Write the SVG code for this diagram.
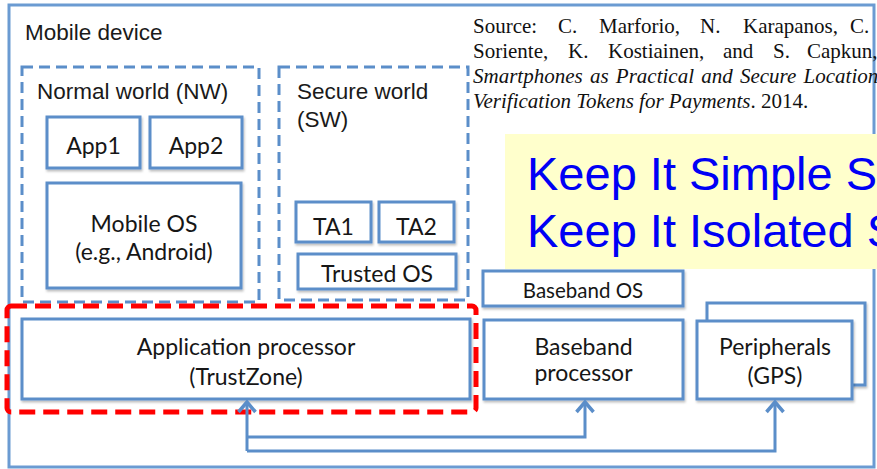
<svg xmlns="http://www.w3.org/2000/svg" width="877" height="469" viewBox="0 0 877 469">
<style>
.box{fill:#fff;stroke:#5b8ec9;stroke-width:3;filter:url(#sh)}
.dash{fill:none;stroke:#5b8ec9;stroke-width:3;stroke-dasharray:11 6}
.red{fill:none;stroke:#ff0000;stroke-width:5;stroke-dasharray:16 8}
.conn{fill:none;stroke:#5b8ec9;stroke-width:3}
.t{font-family:Lato,"Liberation Sans",sans-serif;font-size:23px;fill:#161616;text-anchor:middle}
.h{font-family:"Liberation Sans",Arial,sans-serif;font-size:22.5px;fill:#1a1a1a}
.src{font-family:"Liberation Serif","Times New Roman",serif;font-size:21px;fill:#111}
.big{font-family:"Liberation Sans",Arial,sans-serif;font-size:47px;fill:#0000f5}
</style>
<defs>
<filter id="sh" x="-10%" y="-10%" width="120%" height="130%">
<feDropShadow dx="1" dy="2" stdDeviation="1.2" flood-color="#000" flood-opacity="0.25"/>
</filter>
<marker id="arr" viewBox="0 0 20 20" refX="17" refY="10" markerWidth="20" markerHeight="20" orient="auto" markerUnits="userSpaceOnUse">
<path d="M7,1.5 L17,10 L7,18.5" fill="none" stroke="#5b8ec9" stroke-width="3.5"/>
</marker>
</defs>
<rect width="877" height="469" fill="#fff"/>
<g id="mobile-device">
<rect x="9" y="5" width="865" height="462" fill="none" stroke="#6b9bd2" stroke-width="3"/>
<text class="h" x="25" y="40">Mobile device</text>
</g>
<g id="source">
<text class="src" y="33"><tspan x="473">Source:</tspan><tspan x="558">C.</tspan><tspan x="599">Marforio,</tspan><tspan x="700">N.</tspan><tspan x="743">Karapanos,</tspan><tspan x="850">C.</tspan></text>
<text class="src" y="58"><tspan x="473">Soriente,</tspan><tspan x="568">K.</tspan><tspan x="608">Kostiainen,</tspan><tspan x="723">and</tspan><tspan x="773">S.</tspan><tspan x="807">Capkun,</tspan></text>
<text class="src" x="473" y="83" font-style="italic" word-spacing="2">Smartphones as Practical and Secure Location</text>
<text class="src" x="473" y="108"><tspan font-style="italic">Verification Tokens for Payments</tspan>. 2014.</text>
</g>
<g id="normal-world">
<rect class="dash" x="22" y="67" width="237" height="235"/>
<text class="h" x="37" y="99">Normal world (NW)</text>
</g>
<g id="secure-world">
<rect class="dash" x="279" y="67" width="189" height="233"/>
<text class="h" x="297" y="99">Secure world</text>
<text class="h" x="297" y="127">(SW)</text>
</g>
<g id="app1"><rect class="box" x="47" y="117" width="93" height="51"/><text class="t" x="93.5" y="154">App1</text></g>
<g id="app2"><rect class="box" x="150" y="117" width="92" height="51"/><text class="t" x="196" y="154">App2</text></g>
<g id="mobile-os"><rect class="box" x="47" y="183" width="194" height="105"/><text class="t" x="144" y="232">Mobile OS</text><text class="t" x="144" y="260">(e.g., Android)</text></g>
<g id="ta1"><rect class="box" x="296" y="202" width="75" height="40"/><text class="t" x="333.5" y="235">TA1</text></g>
<g id="ta2"><rect class="box" x="379" y="202" width="75" height="40"/><text class="t" x="416.5" y="235">TA2</text></g>
<g id="trusted-os"><rect class="box" x="298" y="254" width="158" height="35"/><text class="t" x="377" y="282">Trusted OS</text></g>
<g id="kiss">
<rect x="505" y="134" width="372" height="135" fill="#ffffcc"/>
<text class="big" x="527" y="190">Keep It Simple S</text>
<text class="big" x="527" y="247">Keep It Isolated S</text>
</g>
<g id="baseband-os"><rect class="box" x="483" y="271" width="200" height="35"/><text class="t" x="583" y="298" style="font-size:20.5px">Baseband OS</text></g>
<g id="app-processor"><rect class="box" x="22" y="319" width="448" height="80"/><text class="t" x="246" y="355">Application processor</text><text class="t" x="246" y="385">(TrustZone)</text></g>
<g id="baseband-processor"><rect class="box" x="484" y="320" width="199" height="79"/><text class="t" x="583.5" y="355">Baseband</text><text class="t" x="583.5" y="381">processor</text></g>
<g id="peripherals">
<rect class="box" x="707" y="303" width="158" height="82"/>
<rect class="box" x="697" y="321" width="155" height="78"/>
<text class="t" x="775" y="355">Peripherals</text><text class="t" x="775" y="384">(GPS)</text>
</g>
<g id="trustzone-highlight">
<rect class="red" x="7" y="306" width="469" height="106" rx="4"/>
</g>
<g id="connectors">
<path class="conn" d="M247,451 L247,402" marker-end="url(#arr)"/>
<path class="conn" d="M247,437 L585,437 L585,402" marker-end="url(#arr)"/>
<path class="conn" d="M247,451 L775,451 L775,402" marker-end="url(#arr)"/>
</g>
</svg>
